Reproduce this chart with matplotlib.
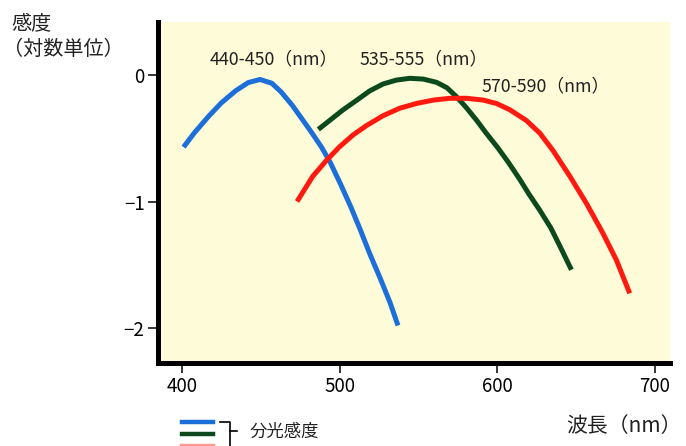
import numpy as np
import matplotlib.pyplot as plt
from matplotlib.lines import Line2D

plt.rcParams['font.family'] = ['Noto Sans CJK JP', 'DejaVu Sans']
plt.rcParams['axes.unicode_minus'] = True

# 読み取った値 (nm, 対数感度)
blue_x = [401, 408, 417, 425, 434, 442, 449.5, 457, 463, 470, 476, 482, 488.5,
          494, 500.5, 507, 513, 519, 525.5, 532, 537]
blue_y = [-0.57, -0.455, -0.325, -0.22, -0.125, -0.06, -0.035, -0.065, -0.135, -0.24,
          -0.345, -0.45, -0.57, -0.69, -0.86, -1.04, -1.22, -1.41, -1.60, -1.80, -1.98]

green_x = [486.5, 494, 502, 511, 519, 527.5, 536, 544.5, 553, 561.5, 568, 574,
           580.5, 587, 593, 600, 607, 614, 620, 627, 634, 640, 647]
green_y = [-0.43, -0.356, -0.277, -0.198, -0.126, -0.071, -0.040, -0.026, -0.032, -0.058,
           -0.10, -0.17, -0.26, -0.36, -0.46, -0.57, -0.69, -0.82, -0.94, -1.07, -1.21,
           -1.36, -1.54]

red_x = [473, 483, 492, 500, 508.5, 517, 527.5, 538, 549, 559.5, 570, 580.5, 591,
         599.5, 608, 618.5, 627, 635.5, 646, 656.5, 667, 675.5, 684]
red_y = [-1.00, -0.80, -0.67, -0.567, -0.474, -0.40, -0.322, -0.263, -0.224, -0.198,
         -0.184, -0.184, -0.198, -0.225, -0.275, -0.36, -0.46, -0.60, -0.80, -1.014,
         -1.251, -1.462, -1.726]

labels = ['440-450（nm）', '535-555（nm）', '570-590（nm）']
label_pos = [(458, 0.125), (553, 0.125), (630.5, -0.09)]

fig = plt.figure(figsize=(6.86, 4.46), dpi=100)
ax = fig.add_axes([0.231, 0.1872, 0.7456, 0.7634])
ax.set_facecolor('#fefbd8')

ax.plot(blue_x, blue_y, color='#1c6fd9', lw=3.6, solid_capstyle='butt', solid_joinstyle='round')
ax.plot(green_x, green_y, color='#0c4a1d', lw=3.6, solid_capstyle='butt', solid_joinstyle='round')
ax.plot(red_x, red_y, color='#ff1a10', lw=3.6, solid_capstyle='butt', solid_joinstyle='round')

for t, (x, y) in zip(labels, label_pos):
    ax.text(x, y, t, fontsize=12.8, ha='center', va='center', color='#222222')

ax.set_xlim(385.1, 709.5)
ax.set_ylim(-2.273, 0.419)
ax.set_xticks([400, 500, 600, 700])
ax.set_yticks([0, -1, -2])
ax.tick_params(direction='out', length=7, width=1.1, labelsize=13.5, pad=3, color='black')
for s in ['top', 'right']:
    ax.spines[s].set_visible(False)
for s in ['left', 'bottom']:
    ax.spines[s].set_linewidth(3.6)

fig.text(0.017, 0.97, '感度', fontsize=14.5, ha='left', va='top', color='#222222')
fig.text(0.004, 0.912, '（対数単位）', fontsize=14.5, ha='left', va='top', color='#222222')
fig.text(0.994, 0.044, '波長（nm）', fontsize=15, ha='right', va='center', color='#222222')

# 凡例ふうの色帯
fig.add_artist(Line2D([0.265, 0.31], [0.054, 0.054], color='#1c6fd9', lw=3.2))
fig.add_artist(Line2D([0.265, 0.31], [0.027, 0.027], color='#0c4a1d', lw=3.2))
fig.add_artist(Line2D([0.265, 0.31], [0.0, 0.0], color='#ff9a90', lw=3.2))
fig.add_artist(Line2D([0.321, 0.335, 0.335], [0.054, 0.054, 0.0], color='black', lw=1.2))
fig.add_artist(Line2D([0.335, 0.346], [0.034, 0.034], color='black', lw=1.2))
fig.text(0.364, 0.031, '分光感度', fontsize=12.5, ha='left', va='center', color='#222222')

fig.savefig('out.png', dpi=100)
